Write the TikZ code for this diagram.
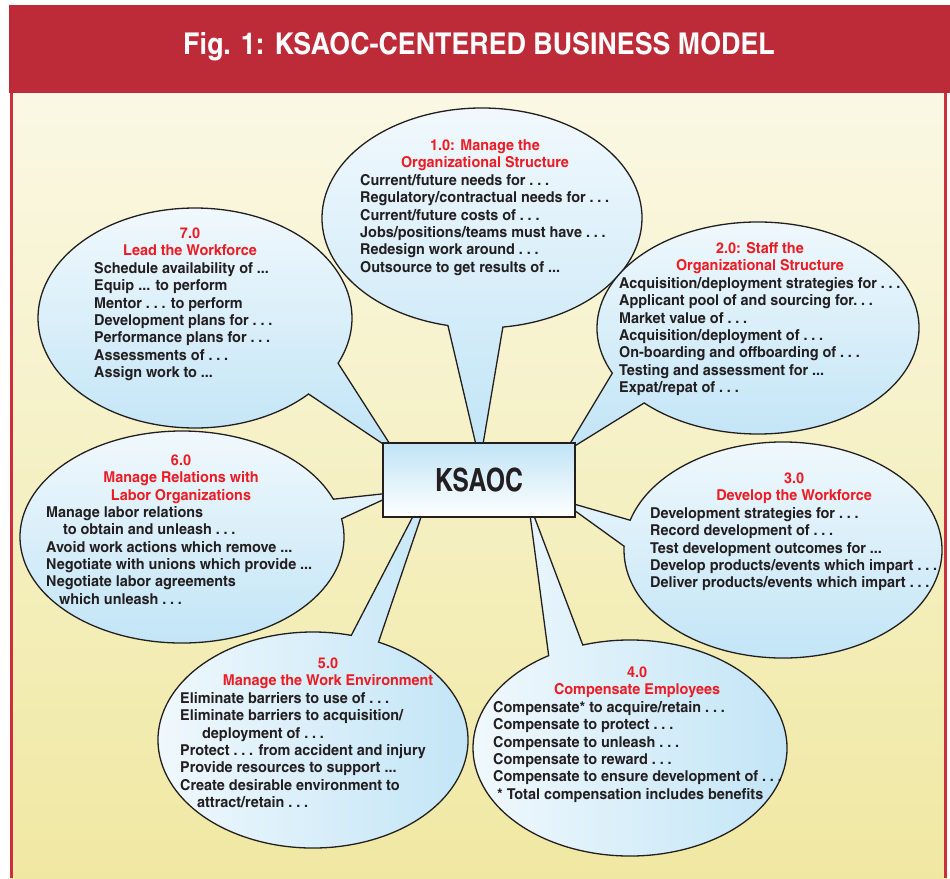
\documentclass[tikz,border=0pt]{standalone}
\usepackage{fontspec}
\usepackage{newunicodechar}
\setmainfont{texgyreheroscn}[Extension=.otf, UprightFont=*-regular, BoldFont=*-bold, FakeStretch=1.17]
\newfontfamily\titleface{texgyreheroscn}[Extension=.otf, UprightFont=*-bold, FakeStretch=1.09]
\newfontfamily\boxface{texgyreheroscn}[Extension=.otf, UprightFont=*-bold, FakeStretch=0.95]
\newunicodechar{…}{.\kern3.8pt.\kern3.8pt.}

\definecolor{titlered}{RGB}{190,43,56}
\definecolor{panelred}{RGB}{204,48,60}
\definecolor{paneltop}{RGB}{250,248,228}
\definecolor{panelbot}{RGB}{240,232,162}
\definecolor{skyblue}{RGB}{192,228,246}
\definecolor{paleblue}{RGB}{242,249,253}
\definecolor{headred}{RGB}{237,28,36}
\definecolor{inkgray}{RGB}{35,31,32}

\newcommand\bubblefont{\fontsize{15}{17.3}\selectfont\bfseries}
\newcommand\ind[1]{\hspace*{#1pt}}

\tikzset{
  bubble/.style = {draw=inkgray, line width=1.3pt},
  head/.style = {anchor=north, align=center, inner sep=0pt, text=headred, font=\bubblefont},
  lines/.style = {anchor=north west, align=left, inner sep=0pt, text=inkgray, font=\bubblefont},
}

\begin{document}
\begin{tikzpicture}[x=1pt, y=-1pt]
\useasboundingbox (0,0) rectangle (950,878);

% frame and title
\shade [top color=paneltop, bottom color=panelbot] (10,93) rectangle (947,878);
\fill [panelred] (10,93) rectangle (12.7,878);
\fill [panelred] (944,93) rectangle (946.7,878);
\fill [titlered] (9,5) rectangle (950,93);
\node (title) at (479,47) [text=white, font=\titleface\fontsize{30}{36}\selectfont] {Fig. 1: KSAOC-CENTERED BUSINESS MODEL};

% bubble centres and tail tips
\coordinate (c1) at (482,218);  \coordinate (tip1) at (480,462);
\coordinate (c2) at (758,328);  \coordinate (tip2) at (565,452);
\coordinate (c3) at (783,550);  \coordinate (tip3) at (560,500);
\coordinate (c4) at (630,748);  \coordinate (tip4) at (528,500);
\coordinate (c5) at (313,740);  \coordinate (tip5) at (437,470);
\coordinate (c6) at (182,537);  \coordinate (tip6) at (400,492);
\coordinate (c7) at (195,318);  \coordinate (tip7) at (395,452);

\draw [bubble, top color=paleblue, bottom color=skyblue] (c1) ++(102.3:160 and 110) arc [start angle=102.3, end angle=442.5, x radius=160, y radius=110] -- (tip1) -- cycle;
\draw [bubble, top color=paleblue, bottom color=skyblue] (c2) ++(154.8:161 and 106) arc [start angle=154.8, end angle=495, x radius=161, y radius=106] -- (tip2) -- cycle;
\draw [bubble, top color=paleblue, bottom color=skyblue] (c3) ++(196:159 and 108) arc [start angle=196, end angle=542, x radius=159, y radius=108] -- (tip3) -- cycle;
\draw [bubble, left color=paleblue, right color=skyblue] (c4) ++(-107.5:157 and 108) arc [start angle=-107.5, end angle=238.8, x radius=157, y radius=108] -- (tip4) -- cycle;
\draw [bubble, left color=paleblue, right color=skyblue] (c5) ++(-65:155 and 108) arc [start angle=-65, end angle=284.3, x radius=155, y radius=108] -- (tip5) -- cycle;
\draw [bubble, top color=paleblue, bottom color=skyblue] (c6) ++(-9.9:162 and 106) arc [start angle=-9.9, end angle=339.1, x radius=162, y radius=106] -- (tip6) -- cycle;
\draw [bubble, top color=paleblue, bottom color=skyblue] (c7) ++(43.7:157 and 110) arc [start angle=43.7, end angle=384.3, x radius=157, y radius=110] -- (tip7) -- cycle;

% centre box
\node (ksaoc) at (479,480) [draw=inkgray, line width=1.3pt, top color=skyblue, bottom color=white, minimum width=192pt, minimum height=74pt, font=\boxface\fontsize{32}{38}\selectfont, text=inkgray] {KSAOC};

% 1.0
\node (h1) at (485,138.3) [head] {\strut 1.0: Manage the\\Organizational Structure};
\node (b1) at (360,173.3) [lines] {\strut Current/future needs for …\\
Regulatory/contractual needs for …\\
Current/future costs of …\\
Jobs/positions/teams must have …\\
Redesign work around …\\
Outsource to get results of ...};

% 2.0
\node (h2) at (760,241.3) [head] {\strut 2.0: Staff the\\Organizational Structure};
\node (b2) at (619,276.3) [lines] {\strut Acquisition/deployment strategies for …\\
Applicant pool of and sourcing for…\\
Market value of …\\
Acquisition/deployment of …\\
On-boarding and offboarding of …\\
Testing and assessment for ...\\
Expat/repat of …};

% 3.0
\node (h3) at (794,471.3) [head] {\strut 3.0\\Develop the Workforce};
\node (b3) at (650,506.3) [lines] {\strut Development strategies for …\\
Record development of …\\
Test development outcomes for ...\\
Develop products/events which impart …\\
Deliver products/events which impart …};

% 4.0
\node (h4) at (637,665.3) [head] {\strut 4.0\\Compensate Employees};
\node (b4) at (493,700.3) [lines] {\strut Compensate* to acquire/retain …\\
Compensate to protect …\\
Compensate to unleash …\\
Compensate to reward …\\
Compensate to ensure development of …\\
\ind{4}* Total compensation includes benefits};

% 5.0
\node (h5) at (328,656.3) [head] {\strut 5.0\\Manage the Work Environment};
\node (b5) at (180,691.3) [lines] {\strut Eliminate barriers to use of …\\
Eliminate barriers to acquisition/\\
\ind{22}deployment of …\\
Protect … from accident and injury\\
Provide resources to support ...\\
Create desirable environment to\\
\ind{17}attract/retain …};

% 6.0
\node (h6) at (181,453.3) [head] {\strut 6.0\\Manage Relations with\\Labor Organizations};
\node (b6) at (46,505.3) [lines] {\strut Manage labor relations\\
\ind{17}to obtain and unleash …\\
Avoid work actions which remove ...\\
Negotiate with unions which provide ...\\
Negotiate labor agreements\\
\ind{13}which unleash …};

% 7.0
\node (h7) at (190,226.3) [head] {\strut 7.0\\Lead the Workforce};
\node (b7) at (94,261.3) [lines] {\strut Schedule availability of ...\\
Equip ... to perform\\
Mentor … to perform\\
Development plans for …\\
Performance plans for …\\
Assessments of …\\
Assign work to ...};
\end{tikzpicture}
\end{document}
